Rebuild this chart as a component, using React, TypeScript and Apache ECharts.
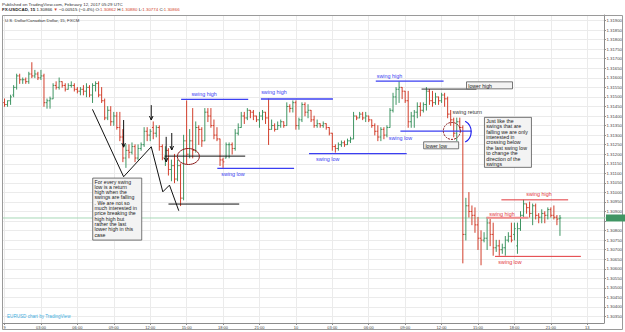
import React, { useEffect, useRef } from "react";
import * as echarts from "echarts";

const FONT = "'Liberation Sans', Arial, sans-serif";
const UP = "#3f9563";
const DOWN = "#d23f2c";
const BLUE = "#3b3ff2";
const RED = "#e3383c";

// 15-minute bars, USD/CAD, 9-10 Feb 2017
const opens = [
  1.3147,1.3146,1.3148,1.3151,1.3155,1.3161,1.3159,1.3159,1.3158,1.3162,
  1.3161,1.3162,1.3160,1.3161,1.3147,1.3148,1.3149,1.3156,1.3155,1.3158,
  1.3156,1.3154,1.3156,1.3156,1.3154,1.3153,1.3154,1.3153,1.3155,1.3151,
  1.3156,1.3157,1.3151,1.3148,1.3139,1.3143,1.3137,1.3140,1.3134,1.3129,
  1.3118,1.3122,1.3121,1.3124,1.3118,1.3123,1.3125,1.3132,1.3130,1.3134,
  1.3131,1.3134,1.3124,1.3118,1.3122,1.3112,1.3114,1.3107,1.3114,1.3097,
  1.3127,1.3120,1.3127,1.3122,1.3134,1.3133,1.3127,1.3142,1.3140,1.3135,
  1.3130,1.3128,1.3117,1.3118,1.3125,1.3125,1.3123,1.3131,1.3134,1.3140,
  1.3139,1.3143,1.3142,1.3140,1.3138,1.3140,1.3142,1.3139,1.3133,1.3135,
  1.3133,1.3135,1.3137,1.3135,1.3145,1.3144,1.3147,1.3135,1.3138,1.3146,
  1.3142,1.3143,1.3138,1.3135,1.3136,1.3135,1.3136,1.3134,1.3131,1.3124,
  1.3123,1.3125,1.3126,1.3125,1.3127,1.3128,1.3140,1.3139,1.3141,1.3139,
  1.3140,1.3138,1.3135,1.3132,1.3129,1.3133,1.3130,1.3134,1.3143,1.3150,
  1.3154,1.3155,1.3153,1.3148,1.3137,1.3140,1.3142,1.3145,1.3143,1.3146,
  1.3153,1.3148,1.3147,1.3150,1.3148,1.3151,1.3149,1.3141,1.3138,1.3131,
  1.3137,1.3134,1.3078,1.3093,1.3090,1.3088,1.3083,1.3076,1.3075,1.3076,
  1.3084,1.3078,1.3071,1.3072,1.3070,1.3071,1.3075,1.3077,1.3078,1.3072,
  1.3081,1.3088,1.3094,1.3092,1.3089,1.3093,1.3088,1.3087,1.3089,1.3088,
  1.3091,1.3088,1.3087,1.30862,
];
const highs = [
  1.3149,1.3148,1.3151,1.3156,1.3162,1.3162,1.3160,1.3160,1.3163,1.3168,
  1.3164,1.3163,1.3164,1.3162,1.3149,1.3150,1.3157,1.3158,1.3160,1.3158,
  1.3157,1.3157,1.3158,1.3157,1.3155,1.3155,1.3156,1.3157,1.3156,1.3157,
  1.3158,1.3158,1.3155,1.3149,1.3145,1.3145,1.3142,1.3142,1.3142,1.3133,
  1.3125,1.3125,1.3126,1.3125,1.3125,1.3126,1.3134,1.3134,1.3133,1.3137,
  1.3135,1.3135,1.3125,1.3124,1.3123,1.3117,1.3120,1.3117,1.3115,1.3130,
  1.3148,1.3133,1.3144,1.3137,1.3135,1.3134,1.3144,1.3144,1.3144,1.3138,
  1.3134,1.3128,1.3118,1.3126,1.3126,1.3126,1.3133,1.3136,1.3142,1.3142,
  1.3144,1.3143,1.3143,1.3140,1.3142,1.3143,1.3142,1.3149,1.3138,1.3136,
  1.3137,1.3138,1.3137,1.3147,1.3146,1.3148,1.3148,1.3139,1.3147,1.3147,
  1.3146,1.3143,1.3140,1.3138,1.3136,1.3137,1.3136,1.3134,1.3131,1.3125,
  1.3126,1.3127,1.3127,1.3128,1.3129,1.3142,1.3140,1.3142,1.3142,1.3142,
  1.3140,1.3138,1.3136,1.3135,1.3134,1.3134,1.3135,1.3144,1.3152,1.3155,
  1.3158,1.3155,1.3153,1.3153,1.3142,1.3143,1.3147,1.3147,1.3147,1.3155,
  1.3154,1.3153,1.3152,1.3150,1.3152,1.3152,1.3150,1.3143,1.3139,1.3139,
  1.3139,1.3135,1.3097,1.3100,1.3093,1.3092,1.3087,1.3080,1.3079,1.3087,
  1.3086,1.3084,1.3075,1.3075,1.3073,1.3077,1.3079,1.3084,1.3084,1.3084,
  1.3090,1.3096,1.3094,1.3095,1.3094,1.3094,1.3089,1.3091,1.3090,1.3092,
  1.3092,1.3093,1.3088,1.30880,
];
const lows = [
  1.3145,1.3145,1.3146,1.3150,1.3154,1.3157,1.3157,1.3157,1.3157,1.3160,
  1.3160,1.3159,1.3159,1.3145,1.3144,1.3144,1.3149,1.3154,1.3154,1.3155,
  1.3153,1.3154,1.3155,1.3153,1.3152,1.3151,1.3151,1.3150,1.3150,1.3147,
  1.3153,1.3150,1.3147,1.3138,1.3138,1.3135,1.3135,1.3133,1.3127,1.3116,
  1.3113,1.3118,1.3120,1.3116,1.3117,1.3122,1.3124,1.3127,1.3127,1.3128,
  1.3129,1.3122,1.3117,1.3114,1.3109,1.3106,1.3105,1.3106,1.3093,1.3096,
  1.3115,1.3118,1.3118,1.3121,1.3125,1.3124,1.3127,1.3137,1.3134,1.3128,
  1.3127,1.3114,1.3113,1.3118,1.3118,1.3120,1.3122,1.3130,1.3134,1.3136,
  1.3138,1.3139,1.3138,1.3137,1.3134,1.3138,1.3136,1.3125,1.3133,1.3132,
  1.3133,1.3134,1.3134,1.3135,1.3142,1.3142,1.3133,1.3133,1.3137,1.3140,
  1.3139,1.3137,1.3134,1.3134,1.3134,1.3134,1.3133,1.3130,1.3122,1.3121,
  1.3122,1.3124,1.3124,1.3125,1.3126,1.3128,1.3138,1.3139,1.3138,1.3137,
  1.3137,1.3134,1.3130,1.3127,1.3127,1.3128,1.3129,1.3134,1.3142,1.3146,
  1.3147,1.3149,1.3147,1.3134,1.3134,1.3134,1.3139,1.3140,1.3142,1.3143,
  1.3146,1.3145,1.3146,1.3146,1.3147,1.3145,1.3139,1.3135,1.3129,1.3127,
  1.3133,1.3063,1.3075,1.3087,1.3083,1.3079,1.3070,1.3062,1.3074,1.3070,
  1.3072,1.3067,1.3069,1.3067,1.3068,1.3067,1.3074,1.3074,1.3075,1.3068,
  1.3080,1.3087,1.3089,1.3087,1.3083,1.3086,1.3084,1.3084,1.3084,1.3086,
  1.3087,1.3086,1.3083,1.30774,
];
const closes = [
  1.3146,1.3148,1.3150,1.3155,1.3161,1.3159,1.3159,1.3158,1.3162,1.3161,
  1.3162,1.3160,1.3161,1.3147,1.3148,1.3149,1.3156,1.3155,1.3158,1.3156,
  1.3154,1.3156,1.3156,1.3154,1.3153,1.3154,1.3153,1.3155,1.3151,1.3156,
  1.3157,1.3151,1.3148,1.3139,1.3143,1.3137,1.3140,1.3134,1.3129,1.3118,
  1.3122,1.3121,1.3124,1.3118,1.3123,1.3125,1.3132,1.3130,1.3132,1.3131,
  1.3134,1.3124,1.3118,1.3122,1.3112,1.3114,1.3107,1.3114,1.3097,1.3127,
  1.3120,1.3127,1.3122,1.3134,1.3133,1.3127,1.3142,1.3140,1.3135,1.3130,
  1.3128,1.3117,1.3116,1.3125,1.3125,1.3123,1.3131,1.3134,1.3140,1.3139,
  1.3143,1.3142,1.3140,1.3138,1.3140,1.3142,1.3139,1.3133,1.3135,1.3133,
  1.3135,1.3137,1.3135,1.3145,1.3144,1.3147,1.3135,1.3138,1.3146,1.3142,
  1.3143,1.3138,1.3135,1.3136,1.3135,1.3136,1.3134,1.3131,1.3124,1.3123,
  1.3125,1.3126,1.3125,1.3127,1.3128,1.3140,1.3139,1.3141,1.3139,1.3140,
  1.3138,1.3135,1.3132,1.3129,1.3133,1.3130,1.3134,1.3143,1.3150,1.3154,
  1.3155,1.3153,1.3148,1.3137,1.3140,1.3142,1.3145,1.3143,1.3146,1.3153,
  1.3148,1.3147,1.3150,1.3148,1.3151,1.3149,1.3141,1.3138,1.3131,1.3137,
  1.3134,1.3078,1.3093,1.3090,1.3088,1.3083,1.3076,1.3075,1.3076,1.3084,
  1.3078,1.3071,1.3072,1.3070,1.3071,1.3075,1.3077,1.3075,1.3081,1.3081,
  1.3088,1.3094,1.3092,1.3089,1.3093,1.3088,1.3087,1.3089,1.3088,1.3091,
  1.3088,1.3087,1.3086,1.30866,
];

const lastPrice = 1.30866;
// one label every 12 bars (3 hours); 198 slots incl. future space
const tickLabels = ["9","03:00","06:00","09:00","12:00","15:00","18:00","21:00","10","03:00","06:00","09:00","12:00","15:00","18:00","21:00","13"];
const slotCount = 198;
const categories: string[] = [];
for (let i = 0; i < slotCount; i++) categories.push("b" + i);

// annotations in (bar index, price)
const zigzag = [[28.97,1.31435],[39.24,1.31082],[48.34,1.31239],[52.15,1.31003],[54.35,1.31038],[57.41,1.30904]];
const arrows = [[39.24,1.31379,1.31237],[48.34,1.31457,1.31379],[53.26,1.31291,1.3116],[55.1,1.31311,1.31222]];
const levels = [
  { a: 52.7, b: 79.3, p: 1.3119, c: "#111", w: 1 },
  { a: 54.02, b: 77.33, p: 1.30939, c: "#111", w: 1 },
  { a: 58.19, b: 80.29, p: 1.31487, c: BLUE, w: 1.3 },
  { a: 84.46, b: 108.2, p: 1.31489, c: BLUE, w: 1.3 },
  { a: 70.11, b: 95.4, p: 1.31126, c: BLUE, w: 1.3 },
  { a: 100.32, b: 132.5, p: 1.31203, c: BLUE, w: 1.3 },
  { a: 122.32, b: 144.66, p: 1.31583, c: BLUE, w: 1.3 },
  { a: 130.43, b: 153.85, p: 1.31321, c: BLUE, w: 1.3 },
  { a: 137.4, b: 155.49, p: 1.31541, c: "#333", w: 1 },
  { a: 163.7, b: 185.7, p: 1.30961, c: RED, w: 1 },
  { a: 158.8, b: 172.6, p: 1.30867, c: "#f08c8c", w: 2 },
  { a: 161.6, b: 189.9, p: 1.30665, c: RED, w: 1 },
];
const notes = [
  { i: 61.57, p: 1.31515, t: "swing high", c: BLUE },
  { i: 84.56, p: 1.31524, t: "swing high", c: BLUE },
  { i: 71.42, p: 1.31096, t: "swing low", c: BLUE },
  { i: 102.62, p: 1.31173, t: "swing low", c: BLUE },
  { i: 122.65, p: 1.31611, t: "swing high", c: BLUE },
  { i: 126.6, p: 1.31283, t: "swing low", c: BLUE },
  { i: 147.61, p: 1.31419, t: "swing return", c: "#333" },
  { i: 171.9, p: 1.30991, t: "swing high", c: RED },
  { i: 159.7, p: 1.30885, t: "swing high", c: RED },
  { i: 162.7, p: 1.30634, t: "swing low", c: RED },
];
const boxes = [
  { i: 29.06, p: 1.31075, w: 49, h: 62, lh: 5.3,
    t: "For every swing\nlow is a return\nhigh when the\nswings are falling\n. We are not so\nmuch interested in\nprice breaking the\nhigh high but\nrather the last\nlower high in this\ncase" },
  { i: 158.12, p: 1.31393, w: 47, h: 50, lh: 5.4,
    t: "Just like the\nswings that are\nfalling we are only\ninterested in\ncrossing below\nthe last swing low\nto change the\ndirection of the\nswings" },
  { i: 152.21, p: 1.31579, w: 46, h: 7, lh: 6, t: "lower high" },
  { i: 138.09, p: 1.31265, w: 35, h: 7, lh: 6, t: "lower low" },
];

function buildOption() {
  const data = opens.map((o, i) => [i, o, highs[i], lows[i], closes[i]]);
  const every12 = (i: number) => i % 12 === 0;
  return {
    animation: false,
    backgroundColor: "#ffffff",
    grid: { left: 3, right: 19, top: 15, bottom: 9, containLabel: false },
    xAxis: {
      type: "category",
      data: categories,
      boundaryGap: true,
      axisLine: { show: true, lineStyle: { color: "#8c8c8c", width: 1 } },
      axisTick: { show: true, alignWithLabel: true, interval: every12, length: 2, lineStyle: { color: "#8c8c8c" } },
      axisLabel: {
        interval: every12,
        formatter: (_v: string, idx: number) => tickLabels[idx / 12] ?? "",
        fontSize: 4,
        color: "#444",
        margin: 2,
        fontFamily: FONT,
      },
      splitLine: { show: true, alignWithLabel: true, interval: every12, lineStyle: { color: "#ebebeb", width: 1 } },
    },
    yAxis: {
      type: "value",
      position: "right",
      min: 1.303161,
      max: 1.31929,
      splitNumber: 31,
      scale: true,
      axisLine: { show: true, lineStyle: { color: "#8c8c8c" } },
      axisTick: { show: true, length: 2, lineStyle: { color: "#8c8c8c" } },
      axisLabel: {
        fontSize: 4.3,
        color: "#444",
        margin: 2.5,
        fontFamily: FONT,
        showMinLabel: false,
        showMaxLabel: false,
        // the 1.30850 label sits under the last-price tag
        formatter: (v: number) => (Math.abs(v - 1.3085) < 1e-7 ? "" : v.toFixed(5)),
      },
      splitLine: { show: true, lineStyle: { color: "#ebebeb", width: 1 } },
    },
    series: [
      {
        type: "custom",
        data,
        encode: { x: 0, y: [1, 2, 3, 4] },
        clip: true,
        z: 5,
        renderItem: (_params: any, api: any) => {
          const i = api.value(0);
          const o = api.value(1), h = api.value(2), l = api.value(3), c = api.value(4);
          const ph = api.coord([i, h]);
          const pl = api.coord([i, l]);
          const po = api.coord([i, o]);
          const pc = api.coord([i, c]);
          const x = ph[0];
          const color = c >= o ? UP : DOWN;
          const w = 1.3;
          const st = { stroke: color, lineWidth: 1 };
          return {
            type: "group",
            children: [
              { type: "line", shape: { x1: x, y1: ph[1] - 0.3, x2: x, y2: pl[1] + 0.3 }, style: st },
              { type: "line", shape: { x1: x - w, y1: po[1], x2: x, y2: po[1] }, style: st },
              { type: "line", shape: { x1: x, y1: pc[1], x2: x + w, y2: pc[1] }, style: st },
            ],
          };
        },
      },
    ],
  };
}

function buildGraphics(chart: any) {
  const base0 = chart.convertToPixel({ xAxisIndex: 0, yAxisIndex: 0 }, [0, lastPrice]) as number[];
  const base1 = chart.convertToPixel({ xAxisIndex: 0, yAxisIndex: 0 }, [1, lastPrice]) as number[];
  const step = base1[0] - base0[0];
  const P = (i: number, p: number): [number, number] => {
    const y = (chart.convertToPixel({ xAxisIndex: 0, yAxisIndex: 0 }, [0, p]) as number[])[1];
    return [base0[0] + i * step, y];
  };
  const g: any[] = [];
  const txt = (x: number, y: number, text: string, fill: string, size: number, extra: any = {}) =>
    g.push({
      type: "text", x, y, z: 30, silent: true,
      style: { text, fill, fontSize: size, fontFamily: FONT, align: "left", verticalAlign: "middle",
        textAlign: "left", textVerticalAlign: "middle", ...extra },
    });

  // outer frame
  g.push({ type: "rect", shape: { x: 2.5, y: 15.5, width: 620, height: 314 }, style: { fill: "none", stroke: "#9a9a9a", lineWidth: 1 }, z: 1, silent: true });

  // header
  txt(2, 4, "Published on TradingView.com, February 12, 2017 05:29 UTC", "#333", 4.4);
  g.push({
    type: "text", x: 2, y: 9.8, z: 30, silent: true,
    style: {
      text: "{b|FX:USDCAD, 15} 1.30866 {r|▼} −0.00515 (−0.4%) O:{r|1.30862} H:{r|1.30880} L:{r|1.30774} C:{r|1.30866}",
      fill: "#222", fontSize: 4.4, fontFamily: FONT, align: "left", verticalAlign: "middle",
      textAlign: "left", textVerticalAlign: "middle",
      rich: {
        b: { fontWeight: "bold", fontSize: 4.4, fontFamily: FONT, fill: "#222" },
        r: { fill: "#d23f2c", fontSize: 4.4, fontFamily: FONT },
      },
    },
  });
  txt(5, 20.5, "U.S. Dollar/Canadian Dollar, 15, FXCM", "#333", 4.3);
  txt(7, 316, "EURUSD chart by TradingView", "#45aee0", 4.6);

  // last price line and tag
  const yl = P(0, lastPrice)[1];
  g.push({ type: "line", shape: { x1: 3, y1: yl, x2: 606, y2: yl }, style: { stroke: "#a7d8b8", lineWidth: 1 }, z: 2, silent: true });
  g.push({ type: "rect", shape: { x: 606, y: yl - 3.5, width: 19, height: 7 }, style: { fill: "#3f9563" }, z: 31, silent: true });
  txt(607.5, yl, lastPrice.toFixed(5), "#ffffff", 4.3);

  // zigzag
  g.push({ type: "polyline", shape: { points: zigzag.map(([i, p]) => P(i, p)) }, style: { stroke: "#111", lineWidth: 1, fill: "none" }, z: 25, silent: true });
  // arrows
  arrows.forEach(([i, p1, p2]) => {
    const a = P(i, p1), b = P(i, p2);
    g.push({ type: "line", shape: { x1: a[0], y1: a[1], x2: b[0], y2: b[1] }, style: { stroke: "#111", lineWidth: 1 }, z: 25, silent: true });
    g.push({ type: "polyline", shape: { points: [[b[0] - 1.8, b[1] - 4], [b[0], b[1]], [b[0] + 1.8, b[1] - 4]] }, style: { stroke: "#111", lineWidth: 1, fill: "none" }, z: 25, silent: true });
  });
  // level lines
  levels.forEach((lv) => {
    const a = P(lv.a, lv.p), b = P(lv.b, lv.p);
    g.push({ type: "line", shape: { x1: a[0], y1: a[1], x2: b[0], y2: b[1] }, style: { stroke: lv.c, lineWidth: lv.w }, z: 25, silent: true });
  });
  // ellipse and circle
  const e1 = P(60.58, 1.31188);
  g.push({ type: "ellipse", shape: { cx: e1[0], cy: e1[1], rx: 11, ry: 8 }, style: { fill: "none", stroke: "#8b1a1a", lineWidth: 1 }, z: 26, silent: true });
  const c1 = P(147.38, 1.31322);
  g.push({ type: "circle", shape: { cx: c1[0], cy: c1[1], r: 8.5 }, style: { fill: "none", stroke: "#8b1a1a", lineWidth: 1, lineDash: [2, 1] }, z: 26, silent: true });
  const a1 = P(149.8, 1.31318);
  g.push({ type: "arc", shape: { cx: a1[0], cy: a1[1], r: 12, startAngle: -Math.PI / 3, endAngle: Math.PI / 3, clockwise: true }, style: { fill: "none", stroke: "#2222ee", lineWidth: 1.2 }, z: 26, silent: true });

  // notes
  notes.forEach((n) => {
    const p = P(n.i, n.p);
    txt(p[0], p[1], n.t, n.c, 5.4);
  });
  // boxes
  boxes.forEach((b) => {
    const p = P(b.i, b.p);
    g.push({ type: "rect", shape: { x: p[0], y: p[1], width: b.w, height: b.h }, style: { fill: "#f3f3f3", stroke: "#555", lineWidth: 0.8 }, z: 27, silent: true });
    g.push({
      type: "text", x: p[0] + 1.8, y: p[1] + 0.8, z: 28, silent: true,
      style: { text: b.t, fill: "#222", fontSize: 5.2, fontFamily: FONT, lineHeight: b.lh, align: "left", verticalAlign: "top", textAlign: "left", textVerticalAlign: "top" },
    });
  });
  return g;
}

export default function App() {
  const ref = useRef<HTMLDivElement>(null);
  useEffect(() => {
    document.body.style.margin = "0";
    const chart = echarts.init(ref.current!, null, { renderer: "svg" });
    chart.setOption(buildOption() as any);
    chart.setOption({ graphic: { elements: buildGraphics(chart) } } as any);
    return () => chart.dispose();
  }, []);
  return <div ref={ref} style={{ position: "absolute", left: 0, top: 0, width: 625, height: 332, background: "#fff" }} />;
}
